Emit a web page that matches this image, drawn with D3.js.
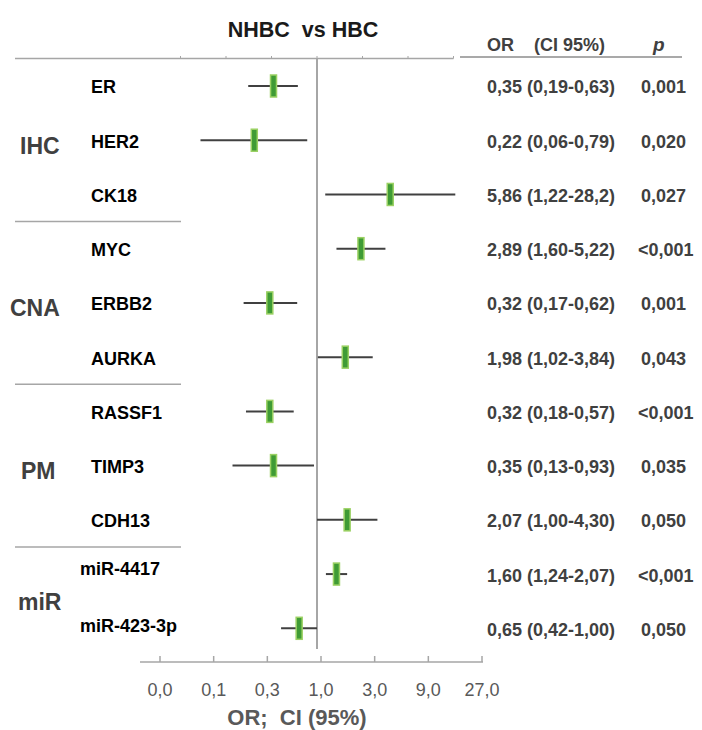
<!DOCTYPE html>
<html>
<head>
<meta charset="utf-8">
<script src="https://cdn.jsdelivr.net/npm/d3@7"></script>
<style>
  html, body { margin: 0; padding: 0; background: #fff; }
  svg { display: block; }
  text { font-family: "Liberation Sans", Arial, sans-serif; }
</style>
</head>
<body>
<script>
// Forest plot: odds ratios (NHBC vs HBC) with 95% confidence intervals
const groups = ["IHC", "CNA", "PM", "miR"];
const markers = ["ER", "HER2", "CK18", "MYC", "ERBB2", "AURKA", "RASSF1", "TIMP3", "CDH13", "miR-4417", "miR-423-3p"];
const markerGroup = ["IHC", "IHC", "IHC", "CNA", "CNA", "CNA", "PM", "PM", "PM", "miR", "miR"];
const oddsRatio = [0.35, 0.22, 5.86, 2.89, 0.32, 1.98, 0.32, 0.35, 2.07, 1.60, 0.65];
const ciLow = [0.19, 0.06, 1.22, 1.60, 0.17, 1.02, 0.18, 0.13, 1.00, 1.24, 0.42];
const ciHigh = [0.63, 0.79, 28.2, 5.22, 0.62, 3.84, 0.57, 0.93, 4.30, 2.07, 1.00];
const pValues = ["0,001", "0,020", "0,027", "<0,001", "0,001", "0,043", "<0,001", "0,035", "0,050", "<0,001", "0,050"];
const tickValues = [1 / 27, 1 / 9, 1 / 3, 1, 3, 9, 27];
const tickLabels = ["0,0", "0,1", "0,3", "1,0", "3,0", "9,0", "27,0"];

const W = 702, H = 730;
const svg = d3.select("body").append("svg").attr("width", W).attr("height", H);

const grid = "#a6a6a6";
const ink = "#404040";

// log-3 scale used for the plotted estimates
const x = d3.scaleLog().base(3).domain([1 / 27, 27]).range([180.5, 453.5]);
// scale of the labelled axis underneath
const xb = d3.scaleLog().base(3).domain([1 / 27, 27]).range([160, 482]);
const y = d3.scalePoint().domain(markers).range([86, 628.3]);

const fmt = v => (v >= 10 ? v.toFixed(1) : v.toFixed(2)).replace(".", ",");

// Title and column headers
svg.append("text").attr("x", 303).attr("y", 37).attr("text-anchor", "middle")
  .attr("font-size", 21.5).attr("font-weight", "bold").attr("fill", "#1a1a1a")
  .attr("xml:space", "preserve").text("NHBC  vs HBC");
svg.append("text").attr("x", 487).attr("y", 51)
  .attr("font-size", 18).attr("font-weight", "bold").attr("fill", ink)
  .attr("xml:space", "preserve").text("OR    (CI 95%)");
svg.append("text").attr("x", 653).attr("y", 51)
  .attr("font-size", 19).attr("font-weight", "bold").attr("font-style", "italic").attr("fill", ink)
  .text("p");

// Top axis line with small ticks
const topAxis = svg.append("g").attr("transform", "translate(0,58.5)");
topAxis.append("line").attr("x1", 15).attr("x2", x(27)).attr("stroke", grid).attr("stroke-width", 1.5);
topAxis.selectAll("line.tk").data(tickValues).join("line").attr("class", "tk")
  .attr("x1", d => x(d)).attr("x2", d => x(d)).attr("y1", 0).attr("y2", -2.5)
  .attr("stroke", grid).attr("stroke-width", 1);
svg.append("line").attr("x1", 460).attr("x2", 682).attr("y1", 57).attr("y2", 57)
  .attr("stroke", "#8c8c8c").attr("stroke-width", 1.5);

// Reference line at OR = 1
svg.append("line").attr("x1", x(1)).attr("x2", x(1)).attr("y1", 58).attr("y2", 649)
  .attr("stroke", grid).attr("stroke-width", 2);

// Group separators and group labels
const groupRows = groups.map(g => markers.filter((m, i) => markerGroup[i] === g));
const sepY = groupRows.slice(0, -1).map((rows, i) => (y(rows[rows.length - 1]) + y(groupRows[i + 1][0])) / 2);
svg.selectAll("line.sep").data(sepY).join("line").attr("class", "sep")
  .attr("x1", 15).attr("x2", 181).attr("y1", d => d).attr("y2", d => d)
  .attr("stroke", grid).attr("stroke-width", 1.5);

const groupX = [20, 10, 21, 18];
const groupY = groupRows.map((rows, i) => i === 3 ? (y(rows[0]) + y(rows[1])) / 2 + 1 : d3.mean(rows, r => y(r)) + 5);
svg.selectAll("text.grp").data(groups).join("text").attr("class", "grp")
  .attr("x", (d, i) => groupX[i]).attr("y", (d, i) => groupY[i]).attr("dy", "0.36em")
  .attr("font-size", 23).attr("font-weight", "bold").attr("fill", ink).text(d => d);

// Marker labels
svg.selectAll("text.mk").data(markers).join("text").attr("class", "mk")
  .attr("x", d => d.startsWith("miR") ? 80 : 91)
  .attr("y", d => y(d) + (d === "miR-4417" ? -6 : d === "miR-423-3p" ? -3 : 1))
  .attr("dy", "0.36em")
  .attr("font-size", 18).attr("font-weight", "bold").attr("fill", "#000").text(d => d);

// Confidence intervals and point estimates
const rows = svg.append("g");
rows.selectAll("line.ci").data(markers).join("line").attr("class", "ci")
  .attr("x1", (d, i) => x(ciLow[i])).attr("x2", (d, i) => x(ciHigh[i]))
  .attr("y1", d => y(d)).attr("y2", d => y(d))
  .attr("stroke", "#404040").attr("stroke-width", 2);
rows.selectAll("rect.est").data(markers).join("rect").attr("class", "est")
  .attr("x", (d, i) => x(oddsRatio[i]) - 3).attr("y", d => y(d) - 11)
  .attr("width", 6).attr("height", 22)
  .attr("fill", "#3f9b35").attr("stroke", "#9bd163").attr("stroke-width", 1.5);

// OR (CI) and p value columns
svg.selectAll("text.or").data(markers).join("text").attr("class", "or")
  .attr("x", 487).attr("y", d => y(d) + 1).attr("dy", "0.36em")
  .attr("font-size", 18).attr("font-weight", "bold").attr("fill", ink)
  .text((d, i) => `${fmt(oddsRatio[i])} (${fmt(ciLow[i])}-${fmt(ciHigh[i])})`);
svg.selectAll("text.pv").data(markers).join("text").attr("class", "pv")
  .attr("x", (d, i) => pValues[i].startsWith("<") ? 638 : 641).attr("y", d => y(d) + 1).attr("dy", "0.36em")
  .attr("font-size", 18).attr("font-weight", "bold").attr("fill", ink)
  .text((d, i) => pValues[i]);

// Bottom axis
const bottom = svg.append("g").attr("transform", "translate(0,662)");
bottom.append("line").attr("x1", 140).attr("x2", xb(27) + 1).attr("stroke", grid).attr("stroke-width", 1.5);
bottom.selectAll("line.tk").data(tickValues).join("line").attr("class", "tk")
  .attr("x1", d => xb(d)).attr("x2", d => xb(d)).attr("y1", 0).attr("y2", -6)
  .attr("stroke", grid).attr("stroke-width", 1.5);
bottom.selectAll("text").data(tickValues).join("text")
  .attr("x", d => xb(d)).attr("y", 34).attr("text-anchor", "middle")
  .attr("font-size", 18).attr("fill", "#595959").text((d, i) => tickLabels[i]);

svg.append("text").attr("x", 297).attr("y", 725).attr("text-anchor", "middle")
  .attr("font-size", 22).attr("font-weight", "bold").attr("fill", "#595959")
  .attr("xml:space", "preserve").text("OR;  CI (95%)");
</script>
</body>
</html>
